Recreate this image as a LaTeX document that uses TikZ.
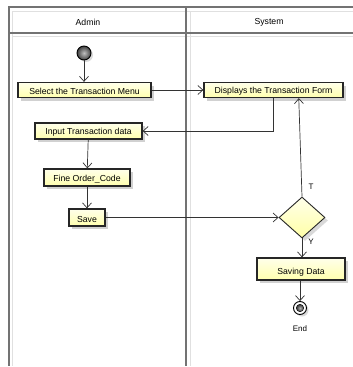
\documentclass[tikz,border=0pt]{standalone}
\usepackage{fontspec}
\setmainfont{Liberation Sans}
\usetikzlibrary{shapes.geometric,arrows.meta,calc,shadows}
\begin{document}
\begin{tikzpicture}[x=1pt,y=-1pt,
  font=\fontsize{8.7}{10}\selectfont,
  frame/.style={draw=black!55, line width=1.1pt},
  faint/.style={draw=black!12, line width=0.8pt},
  act/.style={draw=black!85, line width=1.3pt, inner sep=0pt, minimum height=15pt,
    top color=yellow!8!white, bottom color=yellow!32!white,
    drop shadow={shadow xshift=3pt, shadow yshift=-3pt, fill=black!18, opacity=1}},
  flow/.style={draw=black!80, line width=0.7pt, -{Straight Barb[length=5pt,width=9pt]}},
  lbl/.style={font=\fontsize{8}{10}\selectfont}]
\useasboundingbox (0,0) rectangle (353,367);
% swimlane frame
\draw[faint] (12,11) -- (353,11);
\draw[faint] (12,11) -- (12,366);
\draw[faint] (12,36) -- (353,36);
\draw[faint] (190,11) -- (190,366);
\draw[frame] (353,7) -- (9,7) -- (9,366);
\draw[frame] (9,33) -- (353,33);
\draw[frame] (186,7) -- (186,366);
\node (admin) at (88,22) {Admin};
\node (system) at (269,22) {System};
% nodes
\node[circle, minimum size=14pt, inner sep=0pt, draw=black, line width=0.9pt,
  inner color=black!25, outer color=black!75,
  drop shadow={shadow xshift=2pt, shadow yshift=-2pt, fill=black!15, opacity=1}] (start) at (84,53) {};
\node[act, minimum width=133pt] (menu) at (84.5,90) {};
\node at (menu.center) [yshift=-1pt] {Select the Transaction Menu};
\node[act, minimum width=139pt] (disp) at (273.5,90) {};
\node at (disp.center) [yshift=-1pt] {Displays the Transaction Form};
\node[act, minimum width=107pt, minimum height=16pt] (inp) at (88.5,131) {};
\node at (inp.center) [yshift=-1.5pt] {Input Transaction data};
\node[act, minimum width=86pt, minimum height=17pt] (fine) at (87,177.5) {};
\node at (fine.center) [yshift=-2pt] {Fine Order\_Code};
\node[act, minimum width=36pt, minimum height=17pt] (save) at (87,217.5) {};
\node at (save.center) [yshift=-2pt] {Save};
\node[diamond, draw=black!85, line width=0.9pt, inner sep=0pt, minimum width=46pt, minimum height=41pt,
  top color=yellow!8!white, bottom color=yellow!35!white,
  drop shadow={shadow xshift=3pt, shadow yshift=-3pt, fill=black!15, opacity=1}] (dec) at (302,217.5) {};
\node[act, minimum width=88pt, minimum height=22pt] (saving) at (301,269) {};
\node at (saving.center) [yshift=-3pt] {Saving Data};
\node[circle, minimum size=13pt, inner sep=0pt, draw=black, line width=0.9pt, fill=white,
  drop shadow={shadow xshift=2pt, shadow yshift=-2pt, fill=black!15, opacity=1}] (end) at (300,308) {};
\node[circle, minimum size=7.5pt, inner sep=0pt, draw=black, inner color=black!30, outer color=black!80] (endin) at (end.center) {};
\node[lbl] (endl) at (300,329) {End};
\node[lbl] (tl) at (311,187) {T};
\node[lbl] (yl) at (311,242) {Y};
% connectors
\coordinate (dispin) at ($(disp.south west)!0.68!(disp.south east)$);
\draw[flow] (start) -- (start |- menu.north);
\draw[flow] (menu.east) -- (disp.west);
\draw[flow] (disp.south) |- (inp.east);
\draw[flow] (inp) -- (fine);
\draw[flow] (fine) -- (save);
\draw[flow] (save.east) -- (dec.west);
\draw[flow] (dec.north) -- (dispin);
\draw[flow] (dec.south) -- (dec.south |- saving.north);
\draw[flow] (saving.south -| end) -- (end.north);
\end{tikzpicture}
\end{document}
